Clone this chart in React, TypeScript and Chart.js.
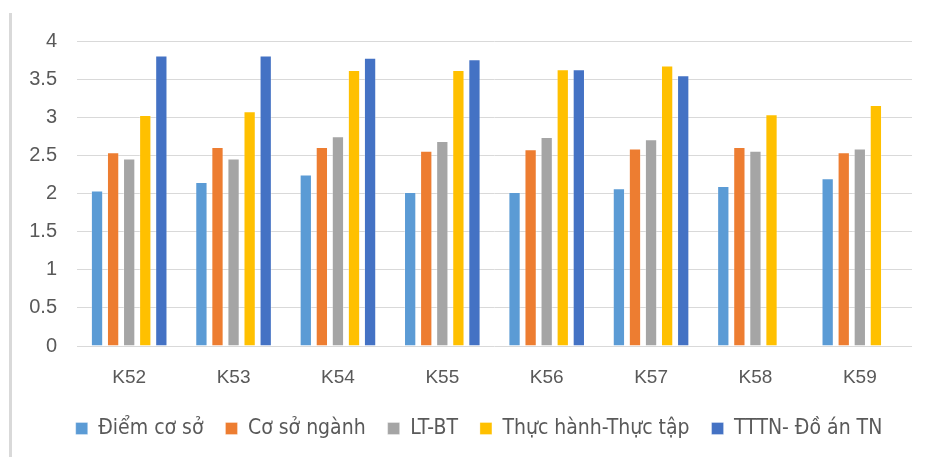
import React, { useEffect, useRef } from "react";
import { Chart, registerables } from "chart.js";

Chart.register(...registerables);

const categories = ["K52", "K53", "K54", "K55", "K56", "K57", "K58", "K59"];

const seriesNames = [
  "Điểm cơ sở",
  "Cơ sở ngành",
  "LT-BT",
  "Thực hành-Thực tập",
  "TTTN- Đồ án TN",
];

const diemCoSo = [2.04, 2.15, 2.25, 2.02, 2.02, 2.07, 2.1, 2.2];
const coSoNganh = [2.54, 2.61, 2.61, 2.56, 2.58, 2.59, 2.61, 2.54];
const ltBt = [2.46, 2.46, 2.75, 2.69, 2.74, 2.71, 2.56, 2.59];
const thucHanh = [3.03, 3.08, 3.62, 3.62, 3.63, 3.68, 3.04, 3.16];
const tttnDoAn = [3.81, 3.81, 3.78, 3.76, 3.63, 3.55, null, null];

const yTicks = [0, 0.5, 1, 1.5, 2, 2.5, 3, 3.5, 4];

const colors = ["#5b9bd5", "#ed7d31", "#a5a5a5", "#ffc000", "#4472c4"];

const TEXT = "#595959";
const GRID = "#d9d9d9";

// Centre the legend under the plot area instead of the whole canvas.
const legendOffset = {
  id: "legendOffset",
  afterLayout(chart: any) {
    if (chart.legend) {
      chart.legend.left = 46;
    }
  },
};

export default function App() {
  const canvasRef = useRef<HTMLCanvasElement | null>(null);

  useEffect(() => {
    document.body.style.margin = "0";
    const canvas = canvasRef.current;
    if (!canvas) return;

    const values = [diemCoSo, coSoNganh, ltBt, thucHanh, tttnDoAn];

    const chart = new Chart(canvas, {
      type: "bar",
      data: {
        labels: categories,
        datasets: seriesNames.map((name, i) => ({
          label: name,
          data: values[i],
          backgroundColor: colors[i],
          borderColor: "rgba(255,255,255,0.3)",
          borderWidth: 1,
          categoryPercentage: 0.77,
          barPercentage: 0.765,
        })),
      },
      plugins: [legendOffset],
      options: {
        responsive: false,
        devicePixelRatio: 1,
        animation: false,
        layout: { padding: { left: 0, right: 13, top: 41, bottom: 8 } },
        plugins: {
          tooltip: { enabled: false },
          legend: {
            position: "bottom",
            labels: {
              color: TEXT,
              boxWidth: 12,
              boxHeight: 12,
              padding: 22,
              font: {
                family: '"DejaVu Sans Condensed", "DejaVu Sans", sans-serif',
                size: 21,
              },
            },
          },
        },
        scales: {
          x: {
            afterFit: (scale: any) => {
              scale.height = 50;
            },
            grid: { display: false },
            border: { display: false },
            ticks: {
              color: TEXT,
              padding: 12,
              font: { family: '"Liberation Sans", Arial, sans-serif', size: 19 },
            },
          },
          y: {
            min: 0,
            max: 4,
            afterBuildTicks: (scale: any) => {
              scale.ticks = yTicks.map((v) => ({ value: v }));
            },
            afterFit: (scale: any) => {
              scale.width = 77;
            },
            grid: { color: GRID, lineWidth: 1, drawTicks: false },
            border: { display: false },
            ticks: {
              color: TEXT,
              padding: 20,
              font: { family: '"Liberation Sans", Arial, sans-serif', size: 20 },
              callback: (v: any) => String(Number(v)),
            },
          },
        },
      },
    });

    return () => chart.destroy();
  }, []);

  return (
    <div style={{ position: "relative", width: 925, height: 457, background: "#fff" }}>
      <div
        style={{
          position: "absolute",
          left: 9,
          top: 13,
          width: 3,
          height: 444,
          background: GRID,
        }}
      />
      <canvas ref={canvasRef} width={925} height={457} style={{ display: "block" }} />
    </div>
  );
}
